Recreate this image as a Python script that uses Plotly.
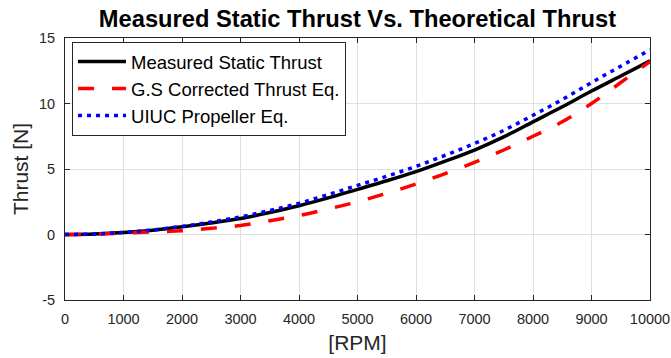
import plotly.graph_objects as go

# Rotor speed samples [RPM]
rpm = [0, 500, 1000, 1500, 2000, 2500, 3000, 3500, 4000, 4500, 5000,
       5500, 6000, 6500, 7000, 7500, 8000, 8500, 9000, 9500, 10000]

# Thrust [N]
measured = [0, 0.04, 0.15, 0.33, 0.59, 0.88, 1.22, 1.68, 2.2, 2.8, 3.45,
            4.1, 4.8, 5.6, 6.45, 7.45, 8.6, 9.75, 10.95, 12.1, 13.25]
gs_corrected = [0, 0.02, 0.1, 0.2, 0.28, 0.47, 0.68, 1.05, 1.45, 1.95, 2.5,
                3.15, 3.85, 4.65, 5.5, 6.45, 7.5, 8.6, 10.0, 11.6, 13.2]
uiuc = [0, 0.04, 0.16, 0.35, 0.62, 0.95, 1.35, 1.83, 2.38, 3.05, 3.75,
        4.45, 5.2, 6.05, 6.95, 7.95, 9.1, 10.3, 11.6, 12.85, 14.1]

x_ticks = list(range(0, 10001, 1000))
x_tick_text = [str(v) for v in x_ticks]
y_ticks = [-5, 0, 5, 10, 15]
y_tick_text = ["-5", "0", "5", "10", "15"]

FONT = "Liberation Sans, Arial, sans-serif"
TEXT_GRAY = "#262626"

fig = go.Figure()
fig.add_trace(go.Scatter(x=rpm, y=measured, mode="lines", name="Measured Static Thrust",
                         line=dict(color="black", width=3.5, shape="spline")))
fig.add_trace(go.Scatter(x=rpm, y=gs_corrected, mode="lines", name="G.S Corrected Thrust Eq.",
                         line=dict(color="#ff0000", width=3.5, dash="16px,18px", shape="spline")))
fig.add_trace(go.Scatter(x=rpm, y=uiuc, mode="lines", name="UIUC Propeller Eq.",
                         line=dict(color="#0000ff", width=3.5, dash="4px,5px", shape="spline")))

axis_common = dict(
    showline=True, linecolor=TEXT_GRAY, linewidth=1, mirror="ticks",
    ticks="inside", ticklen=5, tickcolor=TEXT_GRAY,
    showgrid=True, gridcolor="#e0e0e0", gridwidth=1,
    zeroline=False, ticklabelstandoff=6, automargin=False,
    tickfont=dict(family=FONT, size=14.5, color=TEXT_GRAY),
)

fig.update_layout(
    width=671, height=358,
    margin=dict(l=65, r=21, t=38, b=58),
    paper_bgcolor="white", plot_bgcolor="white",
    title=dict(text="<b>Measured Static Thrust Vs. Theoretical Thrust</b>",
               x=(65 + 650) / 2 / 671, xanchor="center", y=0.948, yanchor="middle",
               font=dict(family=FONT, size=23.7, color="black")),
    xaxis=dict(range=[0, 10000], tickvals=x_ticks, ticktext=x_tick_text,
               title=dict(text="[RPM]", font=dict(family=FONT, size=21, color=TEXT_GRAY), standoff=8),
               **axis_common),
    yaxis=dict(range=[-5, 15], tickvals=y_ticks, ticktext=y_tick_text,
               title=dict(text="Thrust [N]", font=dict(family=FONT, size=21, color=TEXT_GRAY), standoff=4),
               **axis_common),
    legend=dict(x=0.012, y=0.985, xanchor="left", yanchor="top",
                bgcolor="white", bordercolor=TEXT_GRAY, borderwidth=1,
                font=dict(family=FONT, size=18.5, color="black"),
                tracegroupgap=0, itemwidth=48),
    showlegend=True,
)

fig.write_html("out.html")
